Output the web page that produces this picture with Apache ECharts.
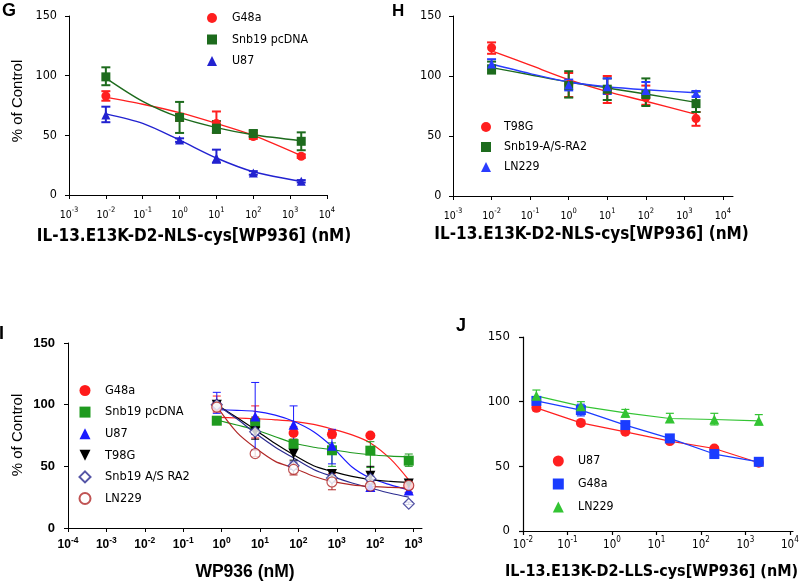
<!DOCTYPE html>
<html><head><meta charset="utf-8">
<script src="https://cdn.jsdelivr.net/npm/echarts@6/dist/echarts.min.js"></script>
<style>html,body{margin:0;padding:0;background:#fff}#c{width:800px;height:582px}</style>
</head><body><div id="c"></div>
<script>
// ---------- Panel G ----------
const G_x = [0.01, 1, 10, 100, 2000];
const G_G48a = [83, 65, 60, 49, 32.5];
const G_G48a_lo = [79, 62, 52, 47, 31];
const G_G48a_hi = [87, 68, 70, 52, 34];
const G_Snb19 = [99, 65, 56, 51.5, 45];
const G_Snb19_lo = [92, 52, 52, 49, 37.5];
const G_Snb19_hi = [107, 78, 62, 54, 52.5];
const G_U87 = [67, 46, 31, 18.5, 11.5];
const G_U87_lo = [61, 44.5, 27, 17, 10.5];
const G_U87_hi = [74, 47.5, 38, 20, 12.5];
const G_fitX = [0.01, 0.1, 1, 10, 100, 2000];
const G_G48a_fit = [82, 76, 69, 60, 50, 33];
const G_Snb19_fit = [98, 78.5, 65, 56.5, 50.5, 45.5];
const G_U87_fit = [68, 60, 46, 31, 19.5, 11.5];
const G_xExp = ['-3', '-2', '-1', '0', '1', '2', '3', '4'];

// ---------- Panel H ----------
const H_x = [0.01, 1, 10, 100, 2000];
const H_T98G = [123.5, 93, 88, 82, 64.5];
const H_T98G_lo = [118.5, 82.5, 77.5, 76, 58.5];
const H_T98G_hi = [128, 102.5, 100, 92, 70];
const H_Snb19 = [106, 92, 89, 84.5, 77];
const H_Snb19_lo = [102, 82, 80, 75, 70];
const H_Snb19_hi = [112, 104, 98, 98, 87];
const H_LN229 = [110, 92.5, 91, 88, 85.5];
const H_LN229_lo = [106, 88, 85, 84, 83];
const H_LN229_hi = [114, 97, 98, 95, 87.5];
const H_fitX = [0.01, 0.1, 1, 10, 100, 2000];
const H_T98G_fit = [121, 109, 97, 87, 79, 68];
const H_Snb19_fit = [107, 101, 95, 90, 85, 78];
const H_LN229_fit = [110, 102, 95, 91, 88.5, 86];
const H_xExp = ['-3', '-2', '-1', '0', '1', '2', '3', '4'];

// ---------- Panel I ----------
const I_x = [0.75, 7.5, 75, 750, 7500, 75000];
const I_G48a = [99, 87, 77, 76, 75, 34];
const I_G48a_lo = [94, 73, 72, 73, 75, 29];
const I_G48a_hi = [107, 99, 82, 79, 75, 38];
const I_Snb19 = [87, 85, 68, 63, 62.7, 54.6];
const I_Snb19_lo = [87, 80, 64, 50, 49, 50];
const I_Snb19_hi = [87, 90, 72, 69, 70, 60];
const I_U87 = [101, 90.5, 83.8, 66.7, 33.2, 30.5];
const I_U87_lo = [93, 63, 68, 52, 30, 28.5];
const I_U87_hi = [110, 118, 99, 80, 36, 33];
const I_T98G = [100, 78.4, 60.3, 43.8, 42.4, 36];
const I_T98G_lo = [97, 72, 55, 41, 35, 34];
const I_T98G_hi = [103, 84, 65, 47, 50, 39];
const I_SnbAS = [100, 78, 50.5, 40.5, 40, 19.7];
const I_SnbAS_lo = [98, 76, 47.5, 38.5, 38, 19];
const I_SnbAS_hi = [102, 80, 53.5, 42.5, 42, 21];
const I_LN229 = [98, 60.3, 47.5, 37.3, 34, 34.5];
const I_LN229_lo = [95, 58, 43, 31, 32, 32];
const I_LN229_hi = [101, 63, 52, 44, 36, 37];
const I_fitX = [0.75, 2.5, 7.5, 25, 75, 250, 750, 2500, 7500, 25000, 75000];
const I_G48a_fit = [89.7, 89.2, 88.6, 87.7, 86.5, 84, 80.3, 75.5, 69, 56, 39];
const I_Snb19_fit = [87.6, 83.5, 79.7, 74, 68.9, 65.5, 63.5, 61, 59.4, 58.3, 57.6];
const I_U87_fit = [96, 95.4, 94.6, 91.5, 86.5, 78, 66, 49.5, 40.5, 35, 31];
const I_T98G_fit = [100, 89.5, 79.7, 68.5, 59.4, 50.5, 45.9, 41.8, 39.2, 37.8, 37];
const I_SnbAS_fit = [100, 88.5, 77, 65.5, 56.8, 47.5, 41.9, 36.5, 32.4, 28.2, 25.1];
const I_LN229_fit = [98.6, 77.5, 65, 54, 48.7, 42, 37.8, 35, 33.7, 33, 32.4];
const I_xExp = ['-4', '-3', '-2', '-1', '0', '1', '2', '3', '2', '3'];

// ---------- Panel J ----------
const J_x = [0.02, 0.2, 2, 20, 200, 2000];
const J_U87 = [95.2, 83.6, 76.7, 69.5, 63.8, 52.8];
const J_U87_lo = [93, 82.5, 75.5, 68.5, 62.5, 52];
const J_U87_hi = [97.5, 85, 78, 70.5, 65, 54];
const J_G48a = [100.6, 93.5, 81.9, 71.6, 59.5, 53.5];
const J_G48a_lo = [99, 89, 80, 70, 58, 52];
const J_G48a_hi = [102.5, 98, 84, 73, 61, 55];
const J_LN229 = [104.5, 96.5, 91.4, 87, 86.2, 85.2];
const J_LN229_lo = [101, 93, 88, 84, 82, 82];
const J_LN229_hi = [109, 100, 94, 91, 91, 90];
const J_xExp = ['-2', '-1', '0', '1', '2', '3', '4'];

const yTicks = [0, 50, 100, 150];

// ---------- helpers ----------
const FT = '"DejaVu Sans Condensed","DejaVu Sans",sans-serif';
const FA = '"Liberation Sans",Arial,sans-serif';
const DOWN_TRI = 'path://M0,0L10,0L5,10Z';
const pairs = (xs, ys) => xs.map((x, i) => [x, ys[i]]);

function scatter(name, gi, xs, ys, symbol, color, size, extra) {
  return Object.assign({
    type: 'scatter', name: name, xAxisIndex: gi, yAxisIndex: gi,
    data: pairs(xs, ys), symbol: symbol, symbolSize: size,
    itemStyle: {color: color, opacity: 1}, z: 5, emphasis: {disabled: true}
  }, extra || {});
}
function fit(gi, xs, ys, color, w, smooth) {
  return {
    type: 'line', xAxisIndex: gi, yAxisIndex: gi, data: pairs(xs, ys),
    showSymbol: false, symbol: 'none', smooth: smooth,
    lineStyle: {color: color, width: w}, z: 3, silent: true, emphasis: {disabled: true}
  };
}
function err(gi, xs, lo, hi, color, w, cap) {
  return {
    type: 'custom', xAxisIndex: gi, yAxisIndex: gi, z: 4, silent: true,
    data: xs.map((x, i) => [x, lo[i], hi[i]]),
    encode: {x: 0, y: [1, 2]},
    renderItem: function (params, api) {
      const x = api.value(0);
      const p1 = api.coord([x, api.value(1)]);
      const p2 = api.coord([x, api.value(2)]);
      const h = cap / 2;
      const st = {stroke: color, lineWidth: w};
      return {type: 'group', children: [
        {type: 'line', shape: {x1: p1[0], y1: p1[1], x2: p2[0], y2: p2[1]}, style: st},
        {type: 'line', shape: {x1: p1[0] - h, y1: p1[1], x2: p1[0] + h, y2: p1[1]}, style: st},
        {type: 'line', shape: {x1: p2[0] - h, y1: p2[1], x2: p2[0] + h, y2: p2[1]}, style: st}
      ]};
    }
  };
}
function xAx(gi, minE, maxE, exps, st) {
  const ticks = exps.map((_, i) => Math.pow(10, minE + i));
  return {
    type: 'log', logBase: 10, gridIndex: gi, min: Math.pow(10, minE), max: Math.pow(10, maxE),
    axisLine: {show: true, onZero: false, lineStyle: {color: '#000', width: st.lw}},
    axisTick: {show: true, length: 4, customValues: ticks, lineStyle: {color: '#000', width: st.lw}},
    minorTick: {show: false}, splitLine: {show: false},
    axisLabel: {
      customValues: ticks, margin: st.margin, color: '#000',
      formatter: function (v) {
        const e = Math.round(Math.log10(v));
        const s = exps[e - minE];
        return s === undefined ? '' : '{b|10}{s|' + s + '}';
      },
      rich: {
        b: {fontFamily: st.ff, fontWeight: st.fw, fontSize: st.fs, lineHeight: st.lh, verticalAlign: 'bottom', color: '#000'},
        s: {fontFamily: st.ff, fontWeight: st.fw, fontSize: st.ss, lineHeight: st.ss, verticalAlign: 'top', color: '#000'}
      }
    },
    name: st.name, nameLocation: 'middle', nameGap: st.nameGap,
    nameTextStyle: {fontFamily: st.nff, fontWeight: st.nfw, fontSize: st.nfs, color: '#000', padding: st.npad || 0}
  };
}
function yAx(gi, st) {
  return {
    type: 'value', gridIndex: gi, min: 0, max: 150, interval: 50,
    axisLine: {show: true, onZero: false, lineStyle: {color: '#000', width: st.lw}},
    axisTick: {show: true, length: 4, customValues: yTicks, lineStyle: {color: '#000', width: st.lw}},
    splitLine: {show: false},
    axisLabel: {customValues: yTicks, margin: st.margin, color: '#000', fontFamily: st.ff, fontWeight: st.fw, fontSize: st.fs}
  };
}
function legend(names, left, top, isz, gap, fs, pad) {
  return {
    data: names, orient: 'vertical', left: left, top: top, padding: 0,
    itemWidth: isz, itemHeight: isz, itemGap: gap, selectedMode: false,
    formatter: n => n.split('|')[1],
    textStyle: {fontFamily: FT, fontSize: fs, color: '#000', lineHeight: isz, padding: [0, 0, 0, pad]}
  };
}

const RED = '#ff1f1f', DKGREEN = '#1d6b1d', BLUE = '#2222d0';
const series = [
  // G
  err(0, G_x, G_G48a_lo, G_G48a_hi, RED, 2, 9),
  err(0, G_x, G_Snb19_lo, G_Snb19_hi, DKGREEN, 2, 9),
  err(0, G_x, G_U87_lo, G_U87_hi, BLUE, 2, 9),
  fit(0, G_fitX, G_G48a_fit, RED, 1.4, 0.3),
  fit(0, G_fitX, G_Snb19_fit, DKGREEN, 1.4, 0.3),
  fit(0, G_fitX, G_U87_fit, BLUE, 1.4, 0.3),
  scatter('G|G48a', 0, G_x, G_G48a, 'circle', RED, 9),
  scatter('G|Snb19 pcDNA', 0, G_x, G_Snb19, 'rect', DKGREEN, 9),
  scatter('G|U87', 0, G_x, G_U87, 'triangle', BLUE, 9),
  // H
  err(1, H_x, H_T98G_lo, H_T98G_hi, RED, 2, 9),
  err(1, H_x, H_Snb19_lo, H_Snb19_hi, DKGREEN, 2, 9),
  err(1, H_x, H_LN229_lo, H_LN229_hi, '#2a3cff', 2, 9),
  fit(1, H_fitX, H_T98G_fit, RED, 1.4, 0.3),
  fit(1, H_fitX, H_Snb19_fit, DKGREEN, 1.4, 0.3),
  fit(1, H_fitX, H_LN229_fit, '#2a3cff', 1.4, 0.3),
  scatter('H|T98G', 1, H_x, H_T98G, 'circle', RED, 9),
  scatter('H|Snb19-A/S-RA2', 1, H_x, H_Snb19, 'rect', DKGREEN, 9),
  scatter('H|LN229', 1, H_x, H_LN229, 'triangle', '#2a3cff', 9),
  // I
  err(2, I_x, I_G48a_lo, I_G48a_hi, '#ff2020', 1, 8),
  err(2, I_x, I_Snb19_lo, I_Snb19_hi, '#1f9a1f', 1, 8),
  err(2, I_x, I_U87_lo, I_U87_hi, '#1a1aff', 1, 8),
  err(2, I_x, I_T98G_lo, I_T98G_hi, '#000', 1, 8),
  err(2, I_x, I_SnbAS_lo, I_SnbAS_hi, '#2b2b90', 1, 8),
  err(2, I_x, I_LN229_lo, I_LN229_hi, '#b02828', 1, 8),
  fit(2, I_fitX, I_G48a_fit, '#ff2020', 1.2, 0.3),
  fit(2, I_fitX, I_Snb19_fit, '#1f9a1f', 1.2, 0.3),
  fit(2, I_fitX, I_U87_fit, '#1a1aff', 1.2, 0.3),
  fit(2, I_fitX, I_T98G_fit, '#000', 1.2, 0.3),
  fit(2, I_fitX, I_SnbAS_fit, '#2b2b90', 1.2, 0.3),
  fit(2, I_fitX, I_LN229_fit, '#b02828', 1.2, 0.3),
  scatter('I|G48a', 2, I_x, I_G48a, 'circle', '#ff1a1a', 10),
  scatter('I|Snb19 pcDNA', 2, I_x, I_Snb19, 'rect', '#1f9a1f', 10),
  scatter('I|U87', 2, I_x, I_U87, 'triangle', '#1a1aff', 10),
  scatter('I|T98G', 2, I_x, I_T98G, DOWN_TRI, '#000', 10),
  scatter('I|Snb19 A/S RA2', 2, I_x, I_SnbAS, 'diamond', '#2b2b90', 11,
    {itemStyle: {color: '#fff', borderColor: '#2b2b90', borderWidth: 1.2}}),
  scatter('I|LN229', 2, I_x, I_LN229, 'circle', '#b02828', 10,
    {itemStyle: {color: '#fff', borderColor: '#b02828', borderWidth: 1.2}}),
  // J
  err(3, J_x, J_U87_lo, J_U87_hi, '#ff2020', 1.2, 8),
  err(3, J_x, J_G48a_lo, J_G48a_hi, '#1a3cff', 1.2, 8),
  err(3, J_x, J_LN229_lo, J_LN229_hi, '#33c433', 1.2, 8),
  fit(3, J_x, J_U87, '#ff2020', 1.2, false),
  fit(3, J_x, J_G48a, '#1a3cff', 1.2, false),
  fit(3, J_x, J_LN229, '#33c433', 1.2, false),
  scatter('J|U87', 3, J_x, J_U87, 'circle', '#ff2020', 10),
  scatter('J|G48a', 3, J_x, J_G48a, 'rect', '#1a3cff', 10),
  scatter('J|LN229', 3, J_x, J_LN229, 'triangle', '#33c433', 10)
];

const stGH = {lw: 1, ff: FT, fw: 'normal', fs: 10.5, ss: 7.5, lh: 14, margin: 11.5,
  nff: FT, nfw: 'bold', nfs: 17};
const stI = {lw: 1, ff: FA, fw: 'bold', fs: 12, ss: 8.5, lh: 15, margin: 8,
  nff: FA, nfw: 'bold', nfs: 17.5, name: 'WP936 (nM)', nameGap: 35};
const stJ = {lw: 1.2, ff: FT, fw: 'normal', fs: 11.5, ss: 8, lh: 15, margin: 5,
  nff: FT, nfw: 'bold', nfs: 16, name: 'IL-13.E13K-D2-LLS-cys[WP936] (nM)', nameGap: 33, npad: [0, 13, 0, 0]};

const option = {
  backgroundColor: '#fff',
  animation: false,
  grid: [
    {left: 69, top: 16, width: 258, height: 179, containLabel: false, outerBoundsMode: 'none'},
    {left: 453, top: 16, width: 280, height: 180, containLabel: false, outerBoundsMode: 'none'},
    {left: 68, top: 343, width: 354, height: 185, containLabel: false, outerBoundsMode: 'none'},
    {left: 523, top: 337, width: 270, height: 194, containLabel: false, outerBoundsMode: 'none'}
  ],
  xAxis: [
    xAx(0, -3, 4, G_xExp, Object.assign({}, stGH, {name: 'IL-13.E13K-D2-NLS-cys[WP936] (nM)', nameGap: 33, npad: [0, 8, 0, 0]})),
    xAx(1, -3, 4.26, H_xExp, Object.assign({}, stGH, {name: 'IL-13.E13K-D2-NLS-cys[WP936] (nM)', nameGap: 30, npad: [0, 3, 0, 0]})),
    xAx(2, -4, 5.22, I_xExp, stI),
    xAx(3, -2, 4.07, J_xExp, stJ)
  ],
  yAxis: [
    yAx(0, {lw: 1, ff: FT, fw: 'normal', fs: 12.5, margin: 12}),
    yAx(1, {lw: 1, ff: FT, fw: 'normal', fs: 12.5, margin: 11.5}),
    yAx(2, {lw: 1, ff: FA, fw: 'bold', fs: 13, margin: 13}),
    yAx(3, {lw: 1.2, ff: FT, fw: 'normal', fs: 13, margin: 13})
  ],
  legend: [
    legend(['G|G48a', 'G|Snb19 pcDNA', 'G|U87'], 207, 12, 10, 9.5, 12.3, 10),
    legend(['H|T98G', 'H|Snb19-A/S-RA2', 'H|LN229'], 481, 121, 10, 8, 12.3, 8),
    legend(['I|G48a', 'I|Snb19 pcDNA', 'I|U87', 'I|T98G', 'I|Snb19 A/S RA2', 'I|LN229'], 78.5, 384, 11, 8.6, 12.7, 9.5),
    legend(['J|U87', 'J|G48a', 'J|LN229'], 552.8, 455, 11, 11, 12.3, 9.2)
  ],
  graphic: [
    {type: 'text', left: 2, top: 2, style: {text: 'G', font: 'bold 18px "Liberation Sans", Arial, sans-serif', fill: '#000'}},
    {type: 'text', left: 392, top: 3, style: {text: 'H', font: 'bold 17px "Liberation Sans", Arial, sans-serif', fill: '#000'}},
    {type: 'text', left: -1, top: 325, style: {text: 'I', font: 'bold 18px "Liberation Sans", Arial, sans-serif', fill: '#000'}},
    {type: 'text', left: 456, top: 317, style: {text: 'J', font: 'bold 18px "Liberation Sans", Arial, sans-serif', fill: '#000'}},
    {type: 'text', x: 18, y: 101, rotation: Math.PI / 2,
      style: {text: '% of Control', font: '15px "Liberation Sans", Arial, sans-serif', fill: '#000', align: 'center', verticalAlign: 'middle'}},
    {type: 'text', x: 18, y: 435, rotation: Math.PI / 2,
      style: {text: '% of Control', font: '15px "Liberation Sans", Arial, sans-serif', fill: '#000', align: 'center', verticalAlign: 'middle'}}
  ],
  series: series
};

const chart = echarts.init(document.getElementById('c'), null, {renderer: 'canvas'});
chart.setOption(option);
</script></body></html>
